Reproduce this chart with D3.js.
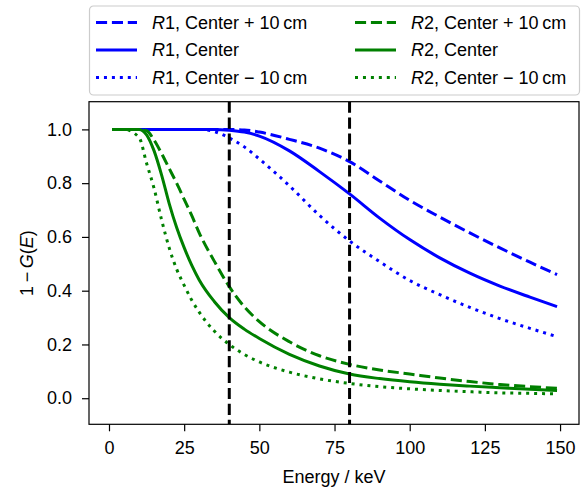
<!DOCTYPE html>
<html>
<head>
<meta charset="utf-8">
<script src="https://cdn.jsdelivr.net/npm/d3@7"></script>
<style>
  body { margin: 0; background: #fff; }
  text { font-family: "Liberation Sans", Arial, sans-serif; }
</style>
</head>
<body>
<div id="chart"></div>
<script>
// energies (keV) where the curves were read
const energy = [1, 5, 10, 12.5, 15, 17.5, 20, 22.5, 25, 27.5, 30, 35, 40, 45, 50, 60, 70, 80, 90, 100, 110, 120, 130, 140, 149];

// R1 (blue)
const r1Plus   = [1, 1, 1, 1, 1, 1, 1, 1, 1, 1, 1, 1, 1.0, 0.998, 0.99, 0.963, 0.93, 0.88, 0.808, 0.736, 0.674, 0.615, 0.559, 0.506, 0.46];
const r1Center = [1, 1, 1, 1, 1, 1, 1, 1, 1, 1, 1, 1.0, 0.997, 0.99, 0.975, 0.92, 0.843, 0.76, 0.67, 0.59, 0.522, 0.465, 0.417, 0.376, 0.341];
const r1Minus  = [1, 1, 1, 1, 1, 1, 1, 1, 1, 1, 1.0, 0.992, 0.968, 0.935, 0.89, 0.79, 0.68, 0.585, 0.508, 0.438, 0.385, 0.338, 0.296, 0.26, 0.229];

// R2 (green)
const r2Plus   = [1, 1, 1.0, 0.995, 0.96, 0.91, 0.855, 0.8, 0.74, 0.68, 0.615, 0.51, 0.415, 0.34, 0.285, 0.21, 0.158, 0.126, 0.105, 0.09, 0.075, 0.062, 0.051, 0.043, 0.037];
const r2Center = [1, 1, 1.0, 0.98, 0.92, 0.83, 0.725, 0.635, 0.56, 0.495, 0.44, 0.36, 0.3, 0.257, 0.222, 0.163, 0.12, 0.09, 0.073, 0.061, 0.052, 0.045, 0.039, 0.033, 0.029];
const r2Minus  = [1, 1, 0.97, 0.874, 0.78, 0.663, 0.56, 0.48, 0.42, 0.365, 0.32, 0.25, 0.2, 0.163, 0.135, 0.097, 0.072, 0.055, 0.043, 0.035, 0.029, 0.024, 0.02, 0.018, 0.016];

const cutoffs = [40, 80];
const xTicks = [0, 25, 50, 75, 100, 125, 150];
const yTicks = [0.0, 0.2, 0.4, 0.6, 0.8, 1.0];

const series = [
  { name: ["R", "1, Center + 10\u2009cm"], values: r1Plus,   color: "blue",  style: "dashed" },
  { name: ["R", "1, Center"],              values: r1Center, color: "blue",  style: "solid" },
  { name: ["R", "1, Center \u2212 10\u2009cm"], values: r1Minus, color: "blue", style: "dotted" },
  { name: ["R", "2, Center + 10\u2009cm"], values: r2Plus,   color: "green", style: "dashed" },
  { name: ["R", "2, Center"],              values: r2Center, color: "green", style: "solid" },
  { name: ["R", "2, Center \u2212 10\u2009cm"], values: r2Minus, color: "green", style: "dotted" }
];

const W = 584, H = 491;
const margin = { top: 101.7, right: 5, bottom: 66.7, left: 89 };
const lw = 3;
const dashes = { solid: null, dashed: `${3.7 * lw},${1.6 * lw}`, dotted: `${1 * lw},${1.65 * lw}` };
const fontSize = 18;

const svg = d3.select("#chart")
  .append("svg")
  .attr("width", W)
  .attr("height", H);

const x = d3.scaleLinear()
  .domain([-6.65, 156.3])
  .range([margin.left, W - margin.right]);

const y = d3.scaleLinear()
  .domain([-0.097, 1.103])
  .range([H - margin.bottom, margin.top]);

// clip for lines
svg.append("clipPath").attr("id", "plot-clip")
  .append("rect")
  .attr("x", margin.left).attr("y", margin.top)
  .attr("width", W - margin.left - margin.right)
  .attr("height", H - margin.top - margin.bottom);

const plot = svg.append("g").attr("clip-path", "url(#plot-clip)");

const line = d3.line()
  .x((d, i) => x(energy[i]))
  .y(d => y(d))
  .curve(d3.curveMonotoneX);

plot.selectAll("path.curve")
  .data(series)
  .enter()
  .append("path")
  .attr("class", "curve")
  .attr("d", d => line(d.values))
  .attr("fill", "none")
  .attr("stroke", d => d.color)
  .attr("stroke-width", lw)
  .attr("stroke-dasharray", d => dashes[d.style]);

// vertical cutoff lines
plot.selectAll("line.cutoff")
  .data(cutoffs)
  .enter()
  .append("line")
  .attr("class", "cutoff")
  .attr("x1", d => x(d)).attr("x2", d => x(d))
  .attr("y1", margin.top).attr("y2", H - margin.bottom)
  .attr("stroke", "black")
  .attr("stroke-width", lw)
  .attr("stroke-dasharray", dashes.dashed);

// axes
const xAxis = svg.append("g")
  .attr("transform", `translate(0, ${H - margin.bottom})`)
  .call(d3.axisBottom(x).tickValues(xTicks).tickSize(7).tickPadding(10).tickFormat(d3.format("d")));

const yAxis = svg.append("g")
  .attr("transform", `translate(${margin.left}, 0)`)
  .call(d3.axisLeft(y).tickValues(yTicks).tickSize(7).tickPadding(10).tickFormat(d3.format(".1f")));

[xAxis, yAxis].forEach(ax => {
  ax.select(".domain").remove();
  ax.selectAll(".tick line").attr("stroke", "black").attr("stroke-width", 1.2);
  ax.selectAll(".tick text")
    .attr("fill", "black")
    .style("font-size", fontSize + "px")
    .style("font-family", "Liberation Sans, Arial, sans-serif");
});

// frame
svg.append("rect")
  .attr("x", margin.left).attr("y", margin.top)
  .attr("width", W - margin.left - margin.right)
  .attr("height", H - margin.top - margin.bottom)
  .attr("fill", "none")
  .attr("stroke", "black")
  .attr("stroke-width", 1.2);

// axis labels
svg.append("text")
  .attr("x", (margin.left + W - margin.right) / 2)
  .attr("y", 483)
  .attr("text-anchor", "middle")
  .style("font-size", fontSize + "px")
  .text("Energy / keV");

const yl = svg.append("text")
  .attr("transform", `translate(33, ${(margin.top + H - margin.bottom) / 2}) rotate(-90)`)
  .attr("text-anchor", "middle")
  .style("font-size", fontSize + "px");
yl.append("tspan").text("1\u2009\u2212\u2009");
yl.append("tspan").attr("font-style", "italic").text("G");
yl.append("tspan").text("(");
yl.append("tspan").attr("font-style", "italic").text("E");
yl.append("tspan").text(")");

// legend
const legend = svg.append("g");
legend.append("rect")
  .attr("x", 89.5).attr("y", 6)
  .attr("width", 490).attr("height", 89)
  .attr("rx", 4)
  .attr("fill", "white").attr("fill-opacity", 0.8)
  .attr("stroke", "#cccccc").attr("stroke-width", 1.2);

const colX = [96, 355];
const rowY = [22.5, 50, 77.5];

const items = legend.selectAll("g.item")
  .data(series)
  .enter()
  .append("g")
  .attr("class", "item")
  .attr("transform", (d, i) => `translate(${colX[Math.floor(i / 3)]}, ${rowY[i % 3]})`);

items.append("line")
  .attr("x1", 0).attr("x2", 41)
  .attr("y1", 0).attr("y2", 0)
  .attr("stroke", d => d.color)
  .attr("stroke-width", lw)
  .attr("stroke-dasharray", d => dashes[d.style]);

const labels = items.append("text")
  .attr("x", 56)
  .attr("y", 0)
  .attr("dy", "0.35em")
  .style("font-size", fontSize + "px");
labels.append("tspan").attr("font-style", "italic").text(d => d.name[0]);
labels.append("tspan").text(d => d.name[1]);
</script>
</body>
</html>
